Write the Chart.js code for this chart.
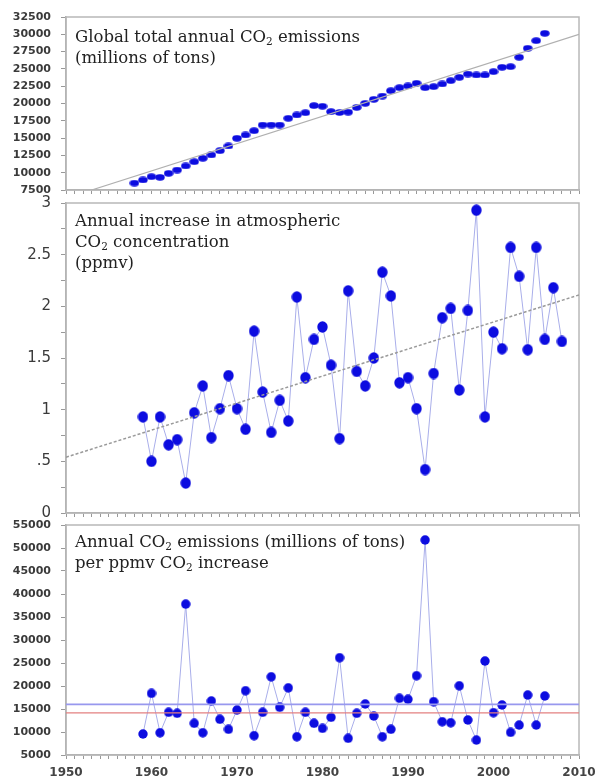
<!DOCTYPE html>
<html>
<head>
<meta charset="utf-8">
<title>CO2 emissions and concentration</title>
<script src="https://cdn.jsdelivr.net/npm/chart.js@4.4.1/dist/chart.umd.min.js"></script>
<style>
    html, body { margin: 0; padding: 0; background: #fff; }
    #wrap { position: relative; width: 595px; height: 778px; overflow: hidden; }
    #wrap canvas { position: absolute; left: 0; }
    .panel-title {
        position: absolute;
        left: 75px;
        font-family: 'DejaVu Serif', serif;
        font-size: 16.5px;
        line-height: 21px;
        color: #222;
        white-space: nowrap;
    }
    .panel-title sub { font-size: 10.5px; line-height: 0; vertical-align: -3px; }
</style>
</head>
<body>
<div id="wrap">
    <canvas id="chart-emissions" width="595" height="200" style="top:0"></canvas>
    <canvas id="chart-increase" width="595" height="325" style="top:195px"></canvas>
    <canvas id="chart-ratio" width="595" height="263" style="top:515px"></canvas>

    <div class="panel-title" style="top:26px">Global total annual CO<sub>2</sub> emissions<br>(millions of tons)</div>
    <div class="panel-title" style="top:210px">Annual increase in atmospheric<br>CO<sub>2</sub> concentration<br>(ppmv)</div>
    <div class="panel-title" style="top:531px">Annual CO<sub>2</sub> emissions (millions of tons)<br>per ppmv CO<sub>2</sub> increase</div>
</div>

<script>
// Datos

// Panel superior: emisiones globales (millones de toneladas), 1958-2006
var emissionYears = [1958, 1959, 1960, 1961, 1962, 1963, 1964, 1965, 1966, 1967,
    1968, 1969, 1970, 1971, 1972, 1973, 1974, 1975, 1976, 1977,
    1978, 1979, 1980, 1981, 1982, 1983, 1984, 1985, 1986, 1987,
    1988, 1989, 1990, 1991, 1992, 1993, 1994, 1995, 1996, 1997,
    1998, 1999, 2000, 2001, 2002, 2003, 2004, 2005, 2006];
var emissionValues = [8500, 8950, 9420, 9330, 9910, 10390, 10970, 11590, 12080, 12560,
    13180, 13860, 14970, 15450, 16070, 16890, 16890, 16890, 17860, 18340,
    18670, 19700, 19600, 18820, 18700, 18750, 19440, 20020, 20600, 21080,
    21850, 22290, 22530, 22920, 22290, 22430, 22820, 23300, 23780, 24260,
    24120, 24120, 24600, 25230, 25320, 26680, 27980, 29080, 30140];
var emissionTrendYears = [1953, 2010];
var emissionTrendValues = [7500, 30000];
var emissionTicks = [7500, 32500, 2500];

// Panel central: incremento anual de CO2 (ppmv), 1959-2008
var increaseYears = [1959, 1960, 1961, 1962, 1963, 1964, 1965, 1966, 1967, 1968,
    1969, 1970, 1971, 1972, 1973, 1974, 1975, 1976, 1977, 1978,
    1979, 1980, 1981, 1982, 1983, 1984, 1985, 1986, 1987, 1988,
    1989, 1990, 1991, 1992, 1993, 1994, 1995, 1996, 1997, 1998,
    1999, 2000, 2001, 2002, 2003, 2004, 2005, 2006, 2007, 2008];
var increaseValues = [0.93, 0.50, 0.93, 0.66, 0.71, 0.29, 0.97, 1.23, 0.73, 1.01,
    1.33, 1.01, 0.81, 1.76, 1.17, 0.78, 1.09, 0.89, 2.09, 1.31,
    1.68, 1.80, 1.43, 0.72, 2.15, 1.37, 1.23, 1.50, 2.33, 2.10,
    1.26, 1.31, 1.01, 0.42, 1.35, 1.89, 1.98, 1.19, 1.96, 2.93,
    0.93, 1.75, 1.59, 2.57, 2.29, 1.58, 2.57, 1.68, 2.18, 1.66];
var increaseTrendYears = [1950, 2010];
var increaseTrendValues = [0.54, 2.11];
var increaseTicks = [0, 3, 0.25];

// Panel inferior: emisiones por ppmv de incremento, 1959-2006
var ratioYears = [1959, 1960, 1961, 1962, 1963, 1964, 1965, 1966, 1967, 1968,
    1969, 1970, 1971, 1972, 1973, 1974, 1975, 1976, 1977, 1978,
    1979, 1980, 1981, 1982, 1983, 1984, 1985, 1986, 1987, 1988,
    1989, 1990, 1991, 1992, 1993, 1994, 1995, 1996, 1997, 1998,
    1999, 2000, 2001, 2002, 2003, 2004, 2005, 2006];
var ratioValues = [9570, 18400, 9850, 14280, 14070, 37800, 11890, 9850, 16740, 12760,
    10590, 14780, 18980, 9200, 14280, 22000, 15370, 19600, 8980, 14280,
    11890, 10800, 13200, 26150, 8630, 14070, 16090, 13480, 8980, 10590,
    17330, 17110, 22240, 51740, 16590, 12240, 12020, 20050, 12610, 8260,
    25430, 14200, 15870, 9930, 11520, 18040, 11520, 17830];
var ratioMeanYears = [1950, 2010];
var ratioBlueValues = [16000, 16000];
var ratioRedValues = [14150, 14150];
var ratioTicks = [5000, 55000, 5000];

var yearRange = [1950, 2010];

(function() {
    'use strict';

    var DOT_COLOR = '#0c0ce0';
    var LINK_COLOR = '#a9aeea';
    var AXIS_COLOR = '#a8a8a8';

    // Dibuja el marco gris alrededor del area del grafico
    var framePlugin = {
        id: 'frame',
        beforeDatasetsDraw: function(chart) {
            var a = chart.chartArea;
            var ctx = chart.ctx;
            ctx.save();
            ctx.strokeStyle = '#b8b8b8';
            ctx.lineWidth = 1.5;
            ctx.strokeRect(a.left, a.top, a.right - a.left, a.bottom - a.top);
            ctx.restore();
        }
    };

    var CO2_Charts = {
        init: function() {
            if (typeof Chart === 'undefined') {
                console.log('Chart.js no esta disponible.');
                return;
            }
            this.initEmissionsChart();
            this.initIncreaseChart();
            this.initRatioChart();
        },

        /**
         * Punto eliptico como imagen para pointStyle
         */
        makeDot: function(w, h) {
            var c = document.createElement('canvas');
            c.width = w;
            c.height = h;
            var ctx = c.getContext('2d');
            ctx.fillStyle = DOT_COLOR;
            ctx.beginPath();
            ctx.ellipse(w / 2, h / 2, w / 2 - 0.3, h / 2 - 0.3, 0, 0, Math.PI * 2);
            ctx.fill();
            return c;
        },

        toPoints: function(xs, ys) {
            var out = [];
            for (var i = 0; i < xs.length; i++) {
                out.push({ x: xs[i], y: ys[i] });
            }
            return out;
        },

        xAxis: function(showLabels, height) {
            return {
                type: 'linear',
                min: yearRange[0],
                max: yearRange[1],
                border: { color: AXIS_COLOR, width: 1.5 },
                grid: { drawOnChartArea: false, drawTicks: true, tickLength: 4, color: '#999' },
                ticks: {
                    stepSize: 1,
                    autoSkip: false,
                    maxRotation: 0,
                    minRotation: 0,
                    padding: 7,
                    color: '#444',
                    font: { family: 'DejaVu Sans', size: 12, weight: 'bold' },
                    callback: function(v) {
                        return (showLabels && v % 10 === 0) ? String(v) : '';
                    }
                },
                afterFit: function(scale) {
                    scale.height = height;
                    scale.paddingLeft = 0;
                    scale.paddingRight = 0;
                }
            };
        },

        yAxis: function(range, fontSize, weight, labelFn) {
            return {
                min: range[0],
                max: range[1],
                border: { color: AXIS_COLOR, width: 1.5 },
                grid: { drawOnChartArea: false, tickLength: 5, color: '#999' },
                ticks: {
                    stepSize: range[2],
                    padding: 10,
                    color: '#3a3a3a',
                    font: { family: 'DejaVu Sans', size: fontSize, weight: weight },
                    callback: labelFn || function(v) { return String(v); }
                },
                afterFit: function(scale) {
                    scale.width = 66;
                    scale.paddingTop = 0;
                    scale.paddingBottom = 0;
                }
            };
        },

        baseOptions: function(padTop, xAxis, yAxis) {
            return {
                responsive: false,
                animation: false,
                events: [],
                layout: { padding: { top: padTop, right: 16, bottom: 0, left: 0 } },
                plugins: { legend: { display: false }, tooltip: { enabled: false } },
                scales: { x: xAxis, y: yAxis }
            };
        },

        /**
         * Panel superior
         */
        initEmissionsChart: function() {
            var ctx = document.getElementById('chart-emissions').getContext('2d');
            new Chart(ctx, {
                type: 'scatter',
                data: {
                    datasets: [{
                        data: this.toPoints(emissionTrendYears, emissionTrendValues),
                        showLine: true,
                        borderColor: '#b0b0b0',
                        borderWidth: 1.2,
                        pointRadius: 0
                    }, {
                        data: this.toPoints(emissionYears, emissionValues),
                        showLine: false,
                        pointStyle: this.makeDot(10, 7),
                        pointRadius: 5
                    }]
                },
                options: this.baseOptions(17, this.xAxis(false, 10), this.yAxis(emissionTicks, 11, 'bold')),
                plugins: [framePlugin]
            });
        },

        /**
         * Panel central
         */
        initIncreaseChart: function() {
            var ctx = document.getElementById('chart-increase').getContext('2d');
            new Chart(ctx, {
                type: 'scatter',
                data: {
                    datasets: [{
                        data: this.toPoints(increaseTrendYears, increaseTrendValues),
                        showLine: true,
                        borderColor: '#9a9a9a',
                        borderWidth: 1.5,
                        borderDash: [3, 2],
                        pointRadius: 0
                    }, {
                        data: this.toPoints(increaseYears, increaseValues),
                        showLine: true,
                        borderColor: LINK_COLOR,
                        borderWidth: 1,
                        pointStyle: this.makeDot(11, 12),
                        pointRadius: 6
                    }]
                },
                options: this.baseOptions(8, this.xAxis(false, 7), this.yAxis(increaseTicks, 15, 'normal', function(v) {
                    if (Math.abs(v * 2 - Math.round(v * 2)) > 1e-6) {
                        return '';
                    }
                    if (Math.abs(v - 0.5) < 1e-6) {
                        return '.5';
                    }
                    return String(Math.round(v * 2) / 2);
                })),
                plugins: [framePlugin]
            });
        },

        /**
         * Panel inferior
         */
        initRatioChart: function() {
            var ctx = document.getElementById('chart-ratio').getContext('2d');
            new Chart(ctx, {
                type: 'scatter',
                data: {
                    datasets: [{
                        data: this.toPoints(ratioMeanYears, ratioBlueValues),
                        showLine: true,
                        borderColor: '#9898ee',
                        borderWidth: 1.6,
                        pointRadius: 0
                    }, {
                        data: this.toPoints(ratioMeanYears, ratioRedValues),
                        showLine: true,
                        borderColor: '#e38080',
                        borderWidth: 1.3,
                        pointRadius: 0
                    }, {
                        data: this.toPoints(ratioYears, ratioValues),
                        showLine: true,
                        borderColor: LINK_COLOR,
                        borderWidth: 1,
                        pointStyle: this.makeDot(10, 10),
                        pointRadius: 5
                    }]
                },
                options: this.baseOptions(10, this.xAxis(true, 23), this.yAxis(ratioTicks, 11, 'bold')),
                plugins: [framePlugin]
            });
        }
    };

    CO2_Charts.init();
})();
</script>
</body>
</html>
